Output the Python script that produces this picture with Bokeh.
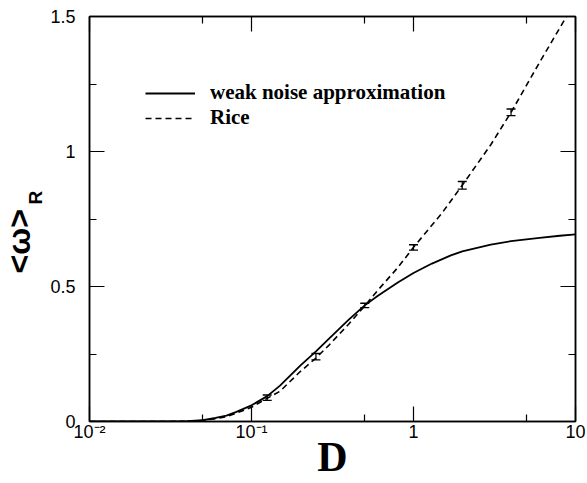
from bokeh.plotting import figure
from bokeh.models import (Range1d, FixedTicker, LogAxis, LinearAxis, Title, Legend,
                          LegendItem, Whisker, ColumnDataSource, TeeHead)
from bokeh.embed import file_html
from bokeh.resources import INLINE

# ---- data ----
weak_D = [0.01, 0.03, 0.04, 0.05, 0.06, 0.07, 0.08, 0.1, 0.125, 0.15, 0.2, 0.25, 0.3,
          0.4, 0.5, 0.6, 0.8, 1.0, 1.3, 1.7, 2.0, 3.0, 4.0, 6.0, 8.0, 10.0]
weak_w = [0.0, 0.0, 0.001, 0.005, 0.013, 0.022, 0.035, 0.06, 0.094, 0.133, 0.207, 0.26, 0.306,
          0.378, 0.43, 0.465, 0.515, 0.55, 0.585, 0.615, 0.63, 0.655, 0.668, 0.68, 0.688, 0.693]

rice_D = [0.01, 0.03, 0.04, 0.05, 0.06, 0.07, 0.08, 0.1, 0.125, 0.15, 0.2, 0.25, 0.3,
          0.4, 0.5, 0.6, 0.8, 1.0, 1.5, 2.0, 3.0, 4.0, 6.0, 8.8]
rice_w = [0.0, 0.0, 0.001, 0.004, 0.01, 0.018, 0.03, 0.053, 0.086, 0.112, 0.185, 0.235, 0.282,
          0.362, 0.428, 0.485, 0.57, 0.645, 0.772, 0.875, 1.025, 1.145, 1.33, 1.5]

sim_D = [0.125, 0.25, 0.5, 1.0, 2.0, 4.0]
sim_w = [0.088, 0.24, 0.43, 0.645, 0.875, 1.145]
sim_err = [0.01, 0.012, 0.008, 0.01, 0.014, 0.012]

x_ticks = [0.01, 0.1, 1, 10]
x_tick_labels = ["10⁻²", "10⁻¹", "1", "10"]
x_minor = [0.05, 0.5, 5]
y_ticks = [0, 0.5, 1, 1.5]
y_tick_labels = ["0", "0.5", "1", "1.5"]
y_minor = [0.25, 0.75, 1.25]

legend_labels = ["weak noise approximation", "Rice"]
x_title = "D"
y_title = "<ω>"
y_title_sub = "R"

# ---- figure ----
p = figure(width=587, height=483, x_axis_type="log", output_backend="svg",
           toolbar_location=None, x_range=Range1d(0.01, 10), y_range=Range1d(0, 1.5),
           min_border_left=89, min_border_right=12, min_border_top=16, min_border_bottom=62)
p.background_fill_color = "white"
p.border_fill_color = "white"
p.grid.visible = False
p.outline_line_color = "black"
p.outline_line_width = 1.5

tick_font = "Liberation Sans"

def style_axis(ax, labels=True):
    ax.major_tick_in = 15
    ax.major_tick_out = 0
    ax.minor_tick_in = 7
    ax.minor_tick_out = 0
    ax.axis_line_width = 1.5
    ax.major_tick_line_width = 1.2
    ax.minor_tick_line_width = 1.2
    ax.axis_line_color = "black"
    ax.major_tick_line_color = "black"
    ax.minor_tick_line_color = "black"
    ax.major_label_text_font = tick_font
    ax.major_label_text_color = "black"
    if labels:
        ax.major_label_text_font_size = "18px"
    else:
        ax.major_label_text_font_size = "1px"
        ax.major_label_text_alpha = 0
        ax.major_label_standoff = 0

xa = p.xaxis[0]
xa.ticker = FixedTicker(ticks=x_ticks, minor_ticks=x_minor)
xa.major_label_overrides = {t: l for t, l in zip(x_ticks, x_tick_labels)}
xa.major_label_standoff = 0
style_axis(xa)
xa.axis_label = x_title
xa.axis_label_text_font = "Liberation Serif"
xa.axis_label_text_font_style = "bold"
xa.axis_label_text_font_size = "42px"
xa.axis_label_text_color = "black"
xa.axis_label_standoff = -11

ya = p.yaxis[0]
ya.ticker = FixedTicker(ticks=y_ticks, minor_ticks=y_minor)
ya.major_label_overrides = {t: l for t, l in zip(y_ticks, y_tick_labels)}
ya.major_label_standoff = 14
style_axis(ya)

top = LogAxis(ticker=FixedTicker(ticks=x_ticks, minor_ticks=x_minor))
style_axis(top, labels=False)
p.add_layout(top, "above")
right = LinearAxis(ticker=FixedTicker(ticks=y_ticks, minor_ticks=y_minor))
style_axis(right, labels=False)
p.add_layout(right, "right")

# y title: subscript lane next to the ticks, main symbol further out
t_sub = Title(text=y_title_sub, align="left", offset=217, standoff=4,
              text_font="Liberation Sans", text_font_style="bold", text_font_size="19px",
              text_color="black")
t_main = Title(text=y_title, align="left", offset=148, standoff=-32,
               text_font="Liberation Sans", text_font_style="bold", text_font_size="32px",
               text_color="black")
p.add_layout(t_sub, "left")
p.add_layout(t_main, "left")

# ---- curves ----
r_weak = p.line(weak_D, weak_w, line_color="black", line_width=1.8)
r_rice = p.line(rice_D, rice_w, line_color="black", line_width=1.6, line_dash="6 4")

src = ColumnDataSource(dict(D=sim_D,
                            lo=[w - e for w, e in zip(sim_w, sim_err)],
                            hi=[w + e for w, e in zip(sim_w, sim_err)]))
wh = Whisker(source=src, base="D", lower="lo", upper="hi", line_color="black", line_width=1.2,
             upper_head=TeeHead(size=9, line_color="black", line_width=1.5),
             lower_head=TeeHead(size=9, line_color="black", line_width=1.2))
p.add_layout(wh)

# ---- legend ----
legend = Legend(items=[LegendItem(label=legend_labels[0], renderers=[r_weak]),
                       LegendItem(label=legend_labels[1], renderers=[r_rice])],
                location=(56, 291), padding=0, margin=0, spacing=-5,
                glyph_width=50, glyph_height=20, label_height=20, label_standoff=15,
                border_line_color=None, background_fill_alpha=0,
                label_text_font="Liberation Serif", label_text_font_style="bold",
                label_text_font_size="21px", label_text_color="black")
p.add_layout(legend)

open("out.html", "w").write(file_html(p, INLINE))
